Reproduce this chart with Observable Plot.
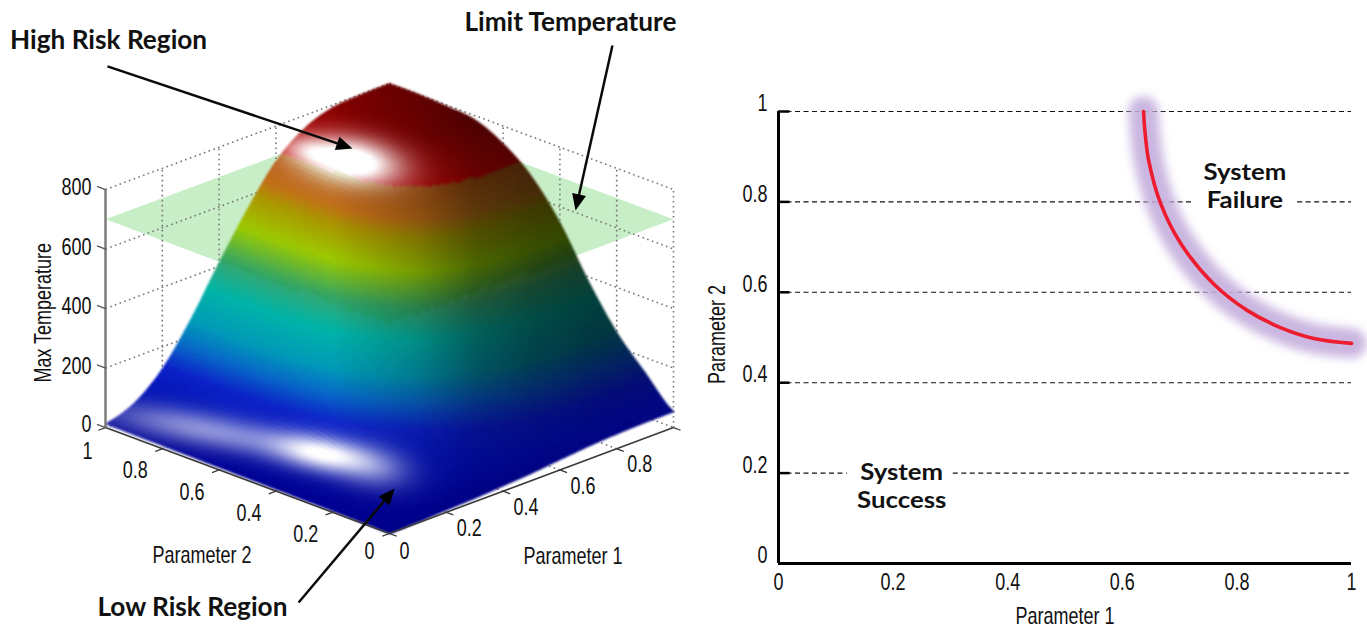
<!DOCTYPE html>
<html>
<head>
<meta charset="utf-8">
<script src="https://cdn.jsdelivr.net/npm/d3@7"></script>
<script src="https://cdn.jsdelivr.net/npm/@observablehq/plot@0.6"></script>
<style>
html,body{margin:0;padding:0;background:#fff;overflow:hidden}
#page{display:flex;width:1367px;height:628px}
svg{display:block;flex:none}
</style>
</head>
<body>
<div id="page"></div>
<script>
// ---- Values ----
// Max temperature, one row per Parameter 2 (0 -> 1), one column per Parameter 1 (0 -> 1)
const tempRow00 = [0, 3, 8, 12, 18, 25, 35, 44, 50, 53, 54];
const tempRow01 = [2, 8, 23, 47, 76, 103, 126, 140, 146, 148, 148];
const tempRow02 = [4, 14, 39, 79, 127, 172, 211, 234, 245, 247, 248];
const tempRow03 = [5, 22, 60, 123, 197, 267, 327, 363, 380, 384, 385];
const tempRow04 = [6, 31, 85, 174, 279, 378, 463, 514, 538, 544, 545];
const tempRow05 = [7, 37, 104, 212, 341, 461, 565, 628, 657, 663, 665];
const tempRow06 = [8, 41, 115, 236, 379, 514, 629, 699, 731, 738, 740];
const tempRow07 = [9, 44, 122, 250, 402, 545, 667, 741, 775, 783, 785];
const tempRow08 = [10, 45, 124, 254, 407, 552, 676, 750, 785, 793, 795];
const tempRow09 = [11, 45, 125, 255, 410, 555, 680, 755, 790, 798, 800];
const tempRow10 = [12, 45, 125, 255, 410, 555, 680, 755, 790, 798, 800];
const tempRows = [tempRow00, tempRow01, tempRow02, tempRow03, tempRow04, tempRow05, tempRow06, tempRow07, tempRow08, tempRow09, tempRow10];
const limitTemperature = 700;
const tempTicks = [0, 200, 400, 600, 800];
const paramTicks = [0, 0.2, 0.4, 0.6, 0.8, 1];
const innerTicks = [0.2, 0.4, 0.6, 0.8];
// colour map of the surface
const colorTemps = [0, 60, 130, 190, 250, 340, 420, 510, 590, 630, 665, 699, 700, 760, 800];
const colorHues = ["#000090", "#0010b0", "#0c22c8", "#0868c8", "#009ab8", "#00b4a8", "#38a870", "#a8cc00", "#b89800", "#d07018", "#c86018", "#c05010", "#c00000", "#a00000", "#800000"];
// failure boundary on the right panel
const boundaryP1 = [.637, .640, .646, .667, .702, .759, .818, .876, .934, 1];
const boundaryP2 = [1, .95, .892, .796, .708, .619, .560, .522, .498, .487];
// annotations of the left panel, in projected plot units
const leftNotes = [
  {t: "High Risk Region", u: -.989, v: 1657},
  {t: "Limit Temperature", u: .637, v: 1718},
  {t: "Low Risk Region", u: -.694, v: -249}
];
const leftArrows = [
  {x1: -.993, y1: 1570, x2: -.130, y2: 1294},
  {x1: .785, y1: 1640, x2: .655, y2: 1086},
  {x1: -.320, y1: -232, x2: .018, y2: 151}
];
const rightNotes = [
  {t: "System", x: .814, y: .864},
  {t: "Failure", x: .814, y: .802},
  {t: "System", x: .215, y: .2},
  {t: "Success", x: .215, y: .138}
];
const dashSegments = [
  {y: 1, x1: 0, x2: 1},
  {y: .8, x1: 0, x2: .724},
  {y: .8, x1: .906, x2: 1},
  {y: .6, x1: 0, x2: 1},
  {y: .4, x1: 0, x2: 1},
  {y: .2, x1: 0, x2: .12},
  {y: .2, x1: .305, x2: 1}
];

// ---- projection: parameters + temperature to plot units ----
const DEPTH = 356;
const U = (p1, p2) => p1 - p2;
const V = (p1, p2, t) => t + (p1 + p2) * DEPTH;
const pxX = u => 389 + 284 * u, pxY = v => 533 - 0.2975 * v;

// smooth drawing of the table
function cr(a, b, c, d, s) {
  return 0.5 * (2 * b + (c - a) * s + (2 * a - 5 * b + 4 * c - d) * s * s + (3 * b - a - 3 * c + d) * s * s * s);
}
const at = (i, j) => tempRows[Math.max(0, Math.min(10, j))][Math.max(0, Math.min(10, i))];
function temp(p1, p2) {
  const fi = Math.min(9.9999, p1 * 10), fj = Math.min(9.9999, p2 * 10);
  const i = Math.floor(fi), j = Math.floor(fj), s = fi - i, r = fj - j;
  const col = k => cr(at(i - 1, j + k), at(i, j + k), at(i + 1, j + k), at(i + 2, j + k), s);
  return Math.max(0, cr(col(-1), col(0), col(1), col(2), r));
}
const cmap = d3.scaleLinear().domain(colorTemps).range(colorHues).interpolate(d3.interpolateRgb).clamp(true);
const shadeScale = d3.scaleLinear().domain([-1, -.2, .1, .3, .5, .7, 1]).range([1, 1, .78, .54, .42, .36, .32]).clamp(true);
const tintScale = d3.scaleLinear().domain([-1, 0, .3, 1]).range([.95, .92, .82, .78]).clamp(true);
function blob(x, y, cx, cy, sl, ss, tilt, amp) {
  const dx = x - cx, dy = y - cy, n = Math.hypot(1, tilt);
  const a = (dx + dy * tilt) / n, b = (dy - dx * tilt) / n;
  return amp * Math.exp(-(a * a) / (2 * sl * sl) - (b * b) / (2 * ss * ss));
}
function underPlane(u, v, t) {
  if (t >= limitTemperature) return false;
  const s = (v - limitTemperature) / DEPTH, a = (s + u) / 2, b = (s - u) / 2;
  return a >= 0 && a <= 1 && b >= 0 && b <= 1;
}
function surfaceColor(p1, p2, t) {
  const u = U(p1, p2), v = V(p1, p2, t), x = pxX(u), y = pxY(v);
  const c = d3.rgb(cmap(t)), k = shadeScale(u);
  const kBlue = k + (1 - k) * Math.max(0, 1 - t / 250) * .8;
  const w = Math.min(1,
    blob(x, y, 350, 162, 34, 16, .15, 1.3) +
    blob(x, y, 305, 150, 18, 10, .15, .4) +
    blob(x, y, 322, 454, 34, 12, .19, .9) +
    blob(x, y, 205, 430, 70, 12, .19, .55) +
    blob(x, y, 375, 468, 26, 15, .19, .35));
  let r = c.r * k + (255 - c.r * k) * w, g = c.g * k + (255 - c.g * k) * w, b = c.b * kBlue + (255 - c.b * kBlue) * w;
  if (underPlane(u, v, t)) { const m = tintScale(u); r *= m; g *= (1 + m) / 2 + .02; b *= m * .97; }
  return d3.rgb(r, g, b).formatHex();
}
const N = 100;
const cells = [];
for (let a = 0; a < N; ++a) for (let b = 0; b < N; ++b) {
  const p = a / N, q = (a + 1) / N, r = b / N, s = (b + 1) / N;
  const tc = temp((p + q) / 2, (r + s) / 2);
  cells.push({p, q, r, s, c: surfaceColor((p + q) / 2, (r + s) / 2, tc)});
}
cells.sort((A, B) => (B.p + B.r) - (A.p + A.r));
const surfacePts = [];
cells.forEach((d, i) => {
  for (const [a, b] of [[d.p, d.r], [d.q, d.r], [d.q, d.s], [d.p, d.s]]) {
    surfacePts.push({id: i, u: U(a, b), v: V(a, b, temp(a, b)), c: d.c});
  }
});

const seg = (a, b, c, d, e, f) => ({x1: U(a, b), y1: V(a, b, c), x2: U(d, e), y2: V(d, e, f)});
const wallLines = [];
for (const t of tempTicks.slice(1)) {
  wallLines.push(seg(0, 1, t, 1, 1, t), seg(1, 1, t, 1, 0, t));
}
for (const p of innerTicks) {
  wallLines.push(seg(p, 1, 0, p, 1, 800), seg(1, p, 0, 1, p, 800));
  wallLines.push(seg(p, 0, 0, p, 1, 0), seg(0, p, 0, 1, p, 0));
}
wallLines.push(seg(1, 0, 0, 1, 0, 800), seg(1, 1, 0, 1, 1, 800), seg(0, 1, 0, 1, 1, 0), seg(1, 1, 0, 1, 0, 0));
const planeCorners = [[0, 0], [1, 0], [1, 1], [0, 1]].map(([a, b]) => ({u: U(a, b), v: V(a, b, limitTemperature)}));
const axisLines = [seg(0, 1, 0, 0, 0, 0), seg(0, 0, 0, 1, 0, 0)];
const tickLines = paramTicks.flatMap(p => [seg(0, p, 0, -.025, p, 0), seg(p, 0, 0, p, -.025, 0)]);
const zTicks = tempTicks.map(t => seg(0, 1, t, 0, 1.03, t));
const zAxis = [seg(0, 1, 0, 0, 1, 800)];
const p2Labels = paramTicks.map(p => ({t: String(p), u: U(0, p), v: V(0, p, 0), dx: p === 0 ? -20 : p === 1 ? -18 : -27, dy: p === 0 ? 18 : p === 1 ? 24 : 22}));
const p1Labels = paramTicks.slice(0, 5).map(p => ({t: String(p), u: U(p, 0), v: V(p, 0, 0), dx: p === 0 ? 15 : 23, dy: p === 0 ? 18 : 16}));
const zLabels = tempTicks.map(t => ({t: String(t), u: -1, v: V(0, 1, t), dy: t === 0 ? -3 : -2}));

const arrowHead = {draw(ctx, size) {
  const s = Math.sqrt(size);
  ctx.moveTo(0, 0); ctx.lineTo(-s * .5, s * 1.15); ctx.lineTo(s * .5, s * 1.15); ctx.closePath();
}};
const NARROW = "'Liberation Sans',sans-serif";
const BOLD = "Lato,'Open Sans',sans-serif";
const TICK = 24;
const link = o => ({x1: "x1", y1: "y1", x2: "x2", y2: "y2", ...o});

const left = Plot.plot({
  width: 700, height: 628, margin: 0,
  style: {fontFamily: NARROW, background: "white"},
  x: {domain: [-1, 1], range: [105, 673], axis: null},
  y: {domain: [0, 1000], range: [533, 235.5], axis: null},
  color: {type: "identity"},
  marks: [
    Plot.line(planeCorners.concat(planeCorners[0]), {x: "u", y: "v", fill: "#c8eec8", stroke: "none"}),
    Plot.link(wallLines, link({stroke: "#777", strokeWidth: 1.6, strokeDasharray: "1.6 3.4"})),
    Plot.line(surfacePts, {x: "u", y: "v", z: "id", fill: "c", stroke: "c", strokeWidth: 1.2, strokeLinejoin: "round", imageFilter: "blur(0.8px)"}),
    Plot.link(axisLines, link({stroke: "#3a3a3a", strokeWidth: 1.6})),
    Plot.link(tickLines, link({stroke: "#3a3a3a", strokeWidth: 1.3})),
    Plot.link(zAxis, link({stroke: "#777", strokeWidth: 2.4})),
    Plot.link(zTicks, link({stroke: "#555", strokeWidth: 1.3})),
    zLabels.map(d => Plot.text([d], {x: "u", y: "v", text: "t", textAnchor: "end", dx: -14, dy: d.dy, fontSize: TICK, fill: "#111"})),
    p2Labels.map(d => Plot.text([d], {x: "u", y: "v", text: "t", dx: d.dx, dy: d.dy, fontSize: TICK, fill: "#111"})),
    p1Labels.map(d => Plot.text([d], {x: "u", y: "v", text: "t", dx: d.dx, dy: d.dy, fontSize: TICK, fill: "#111"})),
    Plot.text(["Max Temperature"], {x: [-1], y: [V(0, 1, 386)], text: d => d, rotate: -90, dx: -62, fontSize: TICK, fill: "#111"}),
    Plot.text(["Parameter 2"], {x: [U(0, .65)], y: [V(0, .65, 0)], text: d => d, dy: 91, dx: -3, fontSize: TICK, fill: "#111"}),
    Plot.text(["Parameter 1"], {x: [U(.65, 0)], y: [V(.65, 0, 0)], text: d => d, dy: 92, dx: -1, fontSize: TICK, fill: "#111"}),
    Plot.link(leftArrows, {x1: "x1", y1: "y1", x2: d => d.x1 + (d.x2 - d.x1) * .95, y2: d => d.y1 + (d.y2 - d.y1) * .95, stroke: "#0a0a0a", strokeWidth: 2.5}),
    Plot.dot(leftArrows, {x: "x2", y: "y2", r: 8, fill: "#000", stroke: "none", symbol: () => arrowHead,
      rotate: d => Math.atan2((d.x2 - d.x1) * 284, (d.y2 - d.y1) * .2975) * 180 / Math.PI}),
    Plot.text(leftNotes, {x: "u", y: "v", text: "t", fontFamily: BOLD, fontWeight: 700, fontSize: 26.2, fill: "#111"})
  ]
});

const boundary = boundaryP1.map((x, i) => ({x, y: boundaryP2[i]}));
const right = Plot.plot({
  width: 667, height: 628, marginLeft: 78, marginRight: 16, marginTop: 111, marginBottom: 65,
  style: {fontFamily: NARROW, background: "white"},
  x: {domain: [0, 1], label: null},
  y: {domain: [0, 1], label: null},
  marks: [
    Plot.ruleY(dashSegments, {y: "y", x1: "x1", x2: "x2", stroke: "#111", strokeWidth: 1.1, strokeDasharray: "5 3.5"}),
    Plot.line(boundary, {x: "x", y: "y", curve: "catmull-rom", stroke: "#c4aedd", strokeOpacity: .9, strokeWidth: 30, strokeLinecap: "round", imageFilter: "blur(5px)"}),
    Plot.line(boundary, {x: "x", y: "y", curve: "catmull-rom", stroke: "#ed1c2e", strokeWidth: 3.6, strokeLinecap: "round"}),
    Plot.ruleY(innerTicks.concat(1), {x1: 0, x2: .02, stroke: "#000", strokeWidth: 2.5}),
    Plot.ruleX([0], {stroke: "#000", strokeWidth: 3}),
    Plot.ruleY([0], {stroke: "#000", strokeWidth: 3}),
    Plot.axisX({ticks: paramTicks, tickFormat: String, tickSize: 0, tickPadding: 9, fontSize: TICK, fill: "#111", label: null}),
    Plot.axisY({ticks: paramTicks, tickFormat: String, tickSize: 0, tickPadding: 11, dy: -8, fontSize: TICK, fill: "#111", label: null}),
    Plot.text(["Parameter 1"], {x: [.5], y: [0], text: d => d, dy: 53, fontSize: TICK, fill: "#111"}),
    Plot.text(["Parameter 2"], {x: [0], y: [.5], text: d => d, dx: -61, dy: -3, rotate: -90, fontSize: TICK, fill: "#111"}),
    Plot.text(rightNotes, {x: "x", y: "y", text: "t", fontFamily: BOLD, fontWeight: 700, fontSize: 23, fill: "#111"})
  ]
});
document.getElementById("page").append(left, right);
// the reference's label face is condensed: narrow the real text to that width;
// the stacked bold notes keep their width with a smaller line box
for (const t of document.querySelectorAll("svg text")) {
  const cs = getComputedStyle(t);
  const bold = cs.fontFamily.includes("Lato");
  if (bold && cs.fontSize !== "23px") continue;
  const len = t.getComputedTextLength();
  t.setAttribute("lengthAdjust", "spacingAndGlyphs");
  t.setAttribute("textLength", (len * (bold ? 1.12 : .75)).toFixed(1));
}
</script>
</body>
</html>
